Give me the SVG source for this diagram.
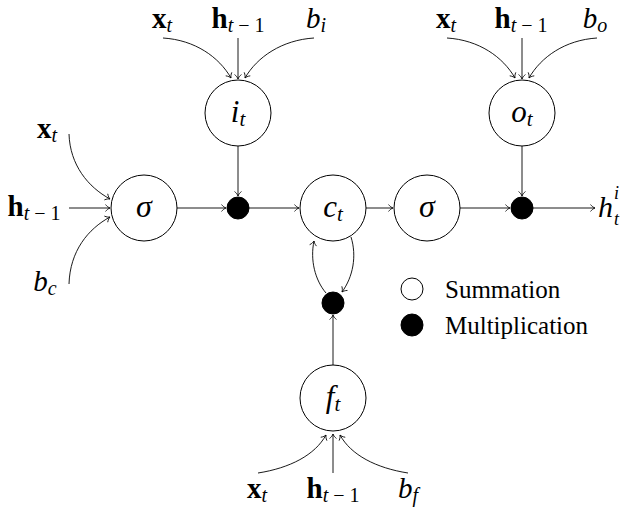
<svg xmlns="http://www.w3.org/2000/svg" width="631" height="510" viewBox="0 0 631 510">
<defs>
<style>
.node{fill:#fff;stroke:#000;stroke-width:1}
.dot{fill:#000;stroke:#000;stroke-width:1}
.conn path,.conn line{fill:none;stroke:#000;stroke-width:0.9;marker-end:url(#arr)}
</style>
<marker id="arr" markerUnits="userSpaceOnUse" markerWidth="10" markerHeight="10" refX="0" refY="0" orient="auto" overflow="visible">
<path d="M-4.5,-3.5 C-3,-1.5 -1.2,-0.4 0,0 C-1.2,0.4 -3,1.5 -4.5,3.5" fill="none" stroke="#000" stroke-width="0.8"/>
</marker>
</defs>

<g id="connectors" class="conn">
<path d="M163,38 C195,40 219,57 231,78"/>
<line x1="238" y1="38" x2="238" y2="79"/>
<path d="M314,38 C282,40 257,57 245,78"/>
<path d="M447,38 C479,40 503,57 515,78"/>
<line x1="522" y1="38" x2="522" y2="79"/>
<path d="M597,38 C565,40 541,57 529,78"/>
<path d="M69,134 C70,165 88,187 110,199"/>
<line x1="69" y1="208" x2="110" y2="208"/>
<path d="M69,284 C70,251 88,229 110,217"/>
<path d="M258,473 C290,468 315,455 326,435"/>
<line x1="333" y1="473" x2="333" y2="434"/>
<path d="M408,473 C376,468 351,455 340,435"/>
<line x1="177" y1="208" x2="226" y2="208"/>
<line x1="249" y1="208" x2="299" y2="208"/>
<line x1="366" y1="208" x2="393" y2="208"/>
<line x1="460" y1="208" x2="510" y2="208"/>
<line x1="533" y1="208" x2="595" y2="208"/>
<line x1="238" y1="146" x2="238" y2="196"/>
<line x1="522" y1="146" x2="522" y2="196"/>
<line x1="333" y1="365" x2="333" y2="315"/>
<path d="M326,293 C315,280 310,260 314,241"/>
<path d="M351,237 C357,256 353,277 342,292"/>
</g>

<g id="node-it"><circle class="node" cx="238" cy="113" r="33"/><text font-family="Liberation Serif" font-size="31" text-anchor="middle" x="238" y="122"><tspan font-style="italic">i</tspan><tspan font-style="italic" font-size="21" dy="4">t</tspan></text></g>
<g id="node-ot"><circle class="node" cx="522" cy="113" r="33"/><text font-family="Liberation Serif" font-size="31" text-anchor="middle" x="522" y="122"><tspan font-style="italic">o</tspan><tspan font-style="italic" font-size="21" dy="4">t</tspan></text></g>
<g id="node-sigma1"><circle class="node" cx="144" cy="208" r="33"/><text font-family="Liberation Serif" font-size="32" font-style="italic" text-anchor="middle" x="144" y="217">σ</text></g>
<g id="node-ct"><circle class="node" cx="333" cy="208" r="33"/><text font-family="Liberation Serif" font-size="31" text-anchor="middle" x="333" y="217"><tspan font-style="italic">c</tspan><tspan font-style="italic" font-size="21" dy="4">t</tspan></text></g>
<g id="node-sigma2"><circle class="node" cx="427" cy="208" r="33"/><text font-family="Liberation Serif" font-size="32" font-style="italic" text-anchor="middle" x="427" y="217">σ</text></g>
<g id="node-ft"><circle class="node" cx="333" cy="398" r="33"/><text font-family="Liberation Serif" font-size="31" text-anchor="middle" x="333" y="407"><tspan font-style="italic">f</tspan><tspan font-style="italic" font-size="21" dy="4">t</tspan></text></g>
<g id="node-dot1"><circle class="dot" cx="238" cy="208" r="11"/></g>
<g id="node-dot2"><circle class="dot" cx="522" cy="208" r="11"/></g>
<g id="node-dot3"><circle class="dot" cx="333" cy="303" r="11"/></g>

<g id="labels" font-family="Liberation Serif" font-size="29" text-anchor="middle">
<text x="162" y="28"><tspan font-weight="bold">x</tspan><tspan font-style="italic" font-size="20" dy="4">t</tspan></text>
<text x="238" y="28"><tspan font-weight="bold">h</tspan><tspan font-size="20" dy="4"><tspan font-style="italic">t</tspan> − 1</tspan></text>
<text x="316" y="28"><tspan font-style="italic">b</tspan><tspan font-style="italic" font-size="20" dy="4">i</tspan></text>
<text x="446" y="28"><tspan font-weight="bold">x</tspan><tspan font-style="italic" font-size="20" dy="4">t</tspan></text>
<text x="521" y="28"><tspan font-weight="bold">h</tspan><tspan font-size="20" dy="4"><tspan font-style="italic">t</tspan> − 1</tspan></text>
<text x="595" y="28"><tspan font-style="italic">b</tspan><tspan font-style="italic" font-size="20" dy="4">o</tspan></text>
<text x="47" y="138"><tspan font-weight="bold">x</tspan><tspan font-style="italic" font-size="20" dy="4">t</tspan></text>
<text x="34" y="216"><tspan font-weight="bold">h</tspan><tspan font-size="20" dy="4"><tspan font-style="italic">t</tspan> − 1</tspan></text>
<text x="45" y="291"><tspan font-style="italic">b</tspan><tspan font-style="italic" font-size="20" dy="4">c</tspan></text>
<text x="257" y="498"><tspan font-weight="bold">x</tspan><tspan font-style="italic" font-size="20" dy="4">t</tspan></text>
<text x="333" y="498"><tspan font-weight="bold">h</tspan><tspan font-size="20" dy="4"><tspan font-style="italic">t</tspan> − 1</tspan></text>
<text x="408" y="498"><tspan font-style="italic">b</tspan><tspan font-style="italic" font-size="20" dy="4">f</tspan></text>
</g>
<g id="label-out" font-family="Liberation Serif" font-style="italic">
<text x="598" y="217" font-size="30">h</text>
<text x="614" y="199" font-size="18">i</text>
<text x="614" y="225" font-size="18">t</text>
</g>

<g id="legend">
<circle class="node" cx="412" cy="289" r="11"/>
<text font-family="Liberation Serif" font-size="25" x="445" y="298">Summation</text>
<circle class="dot" cx="412" cy="325" r="11"/>
<text font-family="Liberation Serif" font-size="25" x="445" y="334">Multiplication</text>
</g>
</svg>
